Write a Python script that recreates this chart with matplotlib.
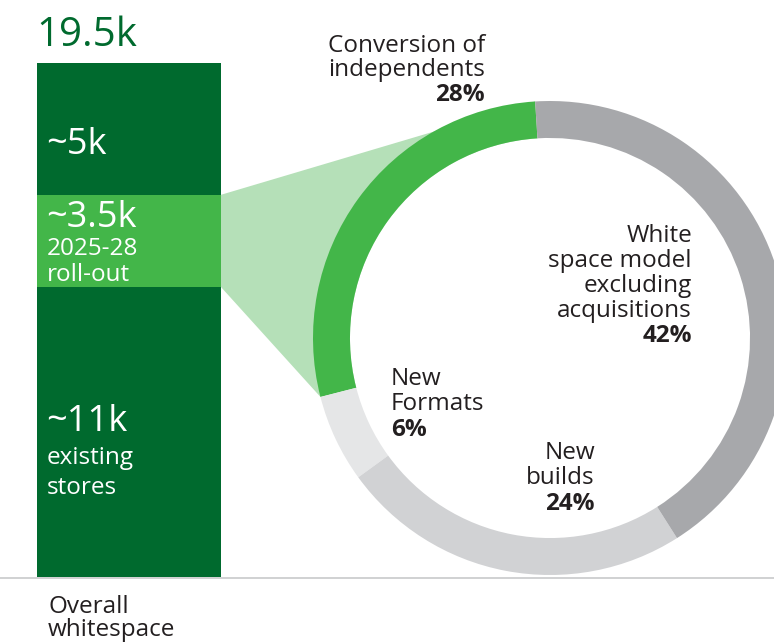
import matplotlib
matplotlib.use('Agg')
import matplotlib.pyplot as plt
from matplotlib.patches import Polygon, Circle
from matplotlib.lines import Line2D
import numpy as np

plt.rcParams['font.family'] = ['Open Sans', 'DejaVu Sans']

# ---- data ----
bar_labels = ['existing stores', '2025-28 roll-out', 'other']
bar_values = [11, 3.5, 5]          # thousands of stores
bar_total = 19.5

ring_labels = ['Conversion of\nindependents', 'New\nFormats', 'New\nbuilds',
               'White\nspace model\nexcluding\nacquisitions']
ring_values = [28, 6, 24, 42]       # percent of the roll-out

# ---- colours ----
dark_green = '#006a2e'
mid_green = '#43b649'
pale_green = '#b5e0b8'
ring_colors = [mid_green, '#e5e6e7', '#d1d2d4', '#a7a8ab']
text_dark = '#231f20'

W, H = 774, 644
fig = plt.figure(figsize=(W / 100, H / 100), dpi=100)


def px(x, y):
    return x / W, 1 - y / H


def put(x, y, s, **kw):
    fx, fy = px(x, y)
    kw.setdefault('va', 'baseline')
    fig.text(fx, fy, s, **kw)


# ---- stacked bar ----
ax_bar = fig.add_axes([37 / W, (H - 577) / H, 184 / W, 514 / H])
bar_colors = [dark_green, mid_green, dark_green]
bottom = 0
for v, c in zip(bar_values, bar_colors):
    ax_bar.bar(0, v, width=1, bottom=bottom, color=c, linewidth=0)
    bottom += v
ax_bar.set_xlim(-0.5, 0.5)
ax_bar.set_ylim(0, bar_total)
ax_bar.axis('off')

# ---- donut ----
ax_pie = fig.add_axes([313 / W, (H - 575) / H, 474 / W, 474 / H])
ax_pie.pie(ring_values, colors=ring_colors, startangle=93.6, counterclock=True,
           radius=1, wedgeprops=dict(width=0.156, linewidth=0))
ax_pie.set_xlim(-1, 1)
ax_pie.set_ylim(-1, 1)
ax_pie.set_aspect('equal')
ax_pie.axis('off')

# pale wedge linking the roll-out segment to the green arc
to_pie = ax_bar.transData + ax_pie.transData.inverted()
top_left = to_pie.transform((0.5, bar_values[0] + bar_values[1]))
bot_left = to_pie.transform((0.5, bar_values[0]))
a0 = np.deg2rad(93.6)
a1 = np.deg2rad(93.6 + ring_values[0] / 100 * 360)
poly = Polygon([top_left, (np.cos(a0), np.sin(a0)), (0, 0),
                (np.cos(a1), np.sin(a1)), bot_left],
               closed=True, facecolor=pale_green, edgecolor='none',
               clip_on=False, zorder=0)
ax_pie.add_patch(poly)
ax_pie.add_patch(Circle((0, 0), 1 - 0.156, facecolor='white',
                        edgecolor='none', zorder=0.5))

# baseline rule
fig.add_artist(Line2D([0, 1], [px(0, 578)[1]] * 2, color='#c8c9cb',
                      linewidth=1.2, transform=fig.transFigure))

# ---- bar texts ----
put(36, 46, f'{bar_total:g}k', color=dark_green, fontsize=29)
put(46, 154, f'~{bar_values[2]:g}k', color='white', fontsize=26)
put(46, 227, f'~{bar_values[1]:g}k', color='white', fontsize=26)
put(47, 255, '2025-28', color='white', fontsize=17.5)
put(47, 281, 'roll-out', color='white', fontsize=17.5)
put(46, 431, f'~{bar_values[0]:g}k', color='white', fontsize=26)
put(47, 464, 'existing', color='white', fontsize=17.5)
put(47, 494, 'stores', color='white', fontsize=17.5)
put(48, 613, 'Overall', color=text_dark, fontsize=17.5)
put(48, 636, 'whitespace', color=text_dark, fontsize=17.5)

# ---- ring texts ----
def label_block(x, y0, text, pct, ha, step):
    lines = text.split('\n')
    for i, ln in enumerate(lines):
        put(x, y0 + i * step, ln, color=text_dark, fontsize=17.5, ha=ha)
    put(x, y0 + len(lines) * step, f'{pct}%', color=text_dark, fontsize=17.5,
        ha=ha, fontweight='bold')


label_block(485, 52, ring_labels[0], ring_values[0], 'right', 24.5)
label_block(692, 242, ring_labels[3], ring_values[3], 'right', 25)
label_block(391, 385, ring_labels[1], ring_values[1], 'left', 25.5)
label_block(595, 459, ring_labels[2], ring_values[2], 'right', 25.5)

fig.savefig('out.png', dpi=100)
